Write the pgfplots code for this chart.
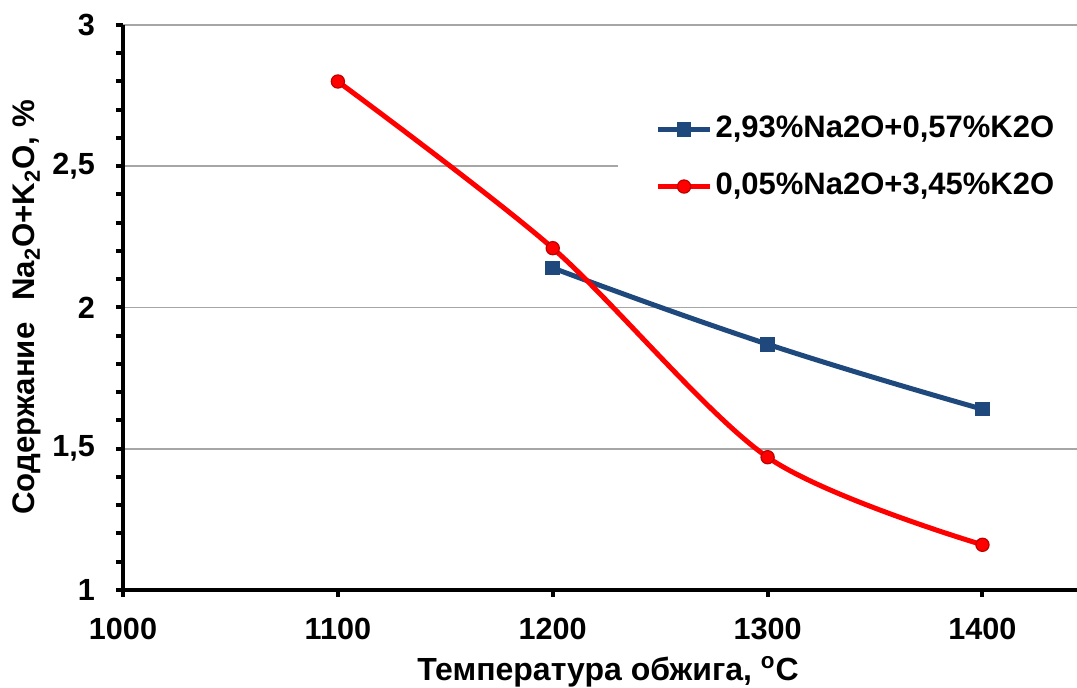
\documentclass[border=0pt]{standalone}
\usepackage{fontspec}
\setmainfont{Liberation Sans}
\usepackage{pgfplots}
\pgfplotsset{compat=1.18}
\definecolor{bl}{RGB}{31,73,125}
\definecolor{rd}{RGB}{255,0,0}
\begin{document}
\begin{tikzpicture}
\begin{axis}[
  scale only axis, width=477pt, height=282.5pt,
  xmin=1000, xmax=1444, ymin=1, ymax=3,
  axis lines*=left,
  axis line style={line width=2.4pt, black},
  xtick={1000,1100,1200,1300,1400},
  ytick={1,1.5,2,2.5,3},
  minor ytick={1.1,1.2,1.3,1.4,1.6,1.7,1.8,1.9,2.1,2.2,2.3,2.4,2.6,2.7,2.8,2.9},
  tick style={black, line width=2pt},
  tick align=outside,
  major tick length=3.5pt, minor tick length=3.5pt,
  ymajorgrids, grid style={gray!70, line width=0.8pt},
  /pgf/number format/assume math mode=true,
  /pgf/number format/use comma,
  /pgf/number format/1000 sep={},
  ticklabel style={font=\fontsize{15.3}{15.3}\selectfont\bfseries},
  yticklabel style={xshift=-7pt},
  xticklabel style={yshift=-7pt},
  xlabel={Температура обжига, \textsuperscript{o}C},
  ylabel={Содержание\hspace{0.7em}Na\textsubscript{2}O+K\textsubscript{2}O, \%},
  xlabel style={font=\fontsize{16}{16}\selectfont\bfseries, at={(axis description cs:0.5,0)}, anchor=center, yshift=-41pt, xshift=4pt},
  ylabel style={font=\fontsize{15.6}{15.6}\selectfont\bfseries, at={(axis description cs:0,0.5)}, anchor=center, yshift=48pt},
  legend style={at={(0.518,0.867)}, anchor=north west, draw=none, fill=white,
    font=\fontsize{15.5}{15.5}\selectfont\bfseries,
    inner xsep=19pt, inner ysep=5pt, row sep=9.5pt,
    nodes={inner xsep=1.5pt, inner ysep=2pt, text height=11.5pt, text depth=3.5pt}},
  legend cell align=left,
  legend image code/.code={\draw[mark repeat=2,mark phase=2] plot coordinates {(0pt,0pt) (13pt,0pt) (26pt,0pt)};},
]
\addplot[bl, line width=2.5pt, smooth, tension=0.8, mark=square*, mark size=3.4pt, mark options={fill=bl, line width=0.5pt}]
  coordinates {(1200,2.14) (1300,1.87) (1400,1.64)};
\addlegendentry{2,93\%Na2O+0,57\%K2O}
\addplot[rd, line width=2.5pt, smooth, mark=*, mark size=3.3pt, mark options={fill=rd, draw=rd!75!black, line width=0.6pt}]
  coordinates {(1100,2.80) (1200,2.21) (1300,1.47) (1400,1.16)};
\addlegendentry{0,05\%Na2O+3,45\%K2O}
\end{axis}
\pgfresetboundingbox
\path[use as bounding box] (-61.5pt,-49pt) rectangle (477pt,295pt);
\end{tikzpicture}
\end{document}
